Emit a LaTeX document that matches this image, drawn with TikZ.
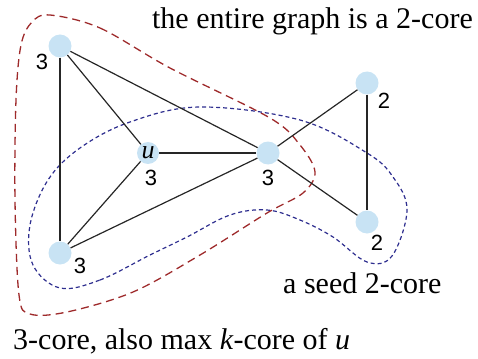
\documentclass[tikz,border=0pt]{standalone}
\usepackage{fontspec}
\setmainfont{Liberation Serif}
\newfontfamily\lblfont{Liberation Sans}
\definecolor{vtxfill}{HTML}{C8E3F4}
\definecolor{outerln}{HTML}{9E2A2B}
\definecolor{innerln}{HTML}{2E2E8F}
\begin{document}
\begin{tikzpicture}[
      x=1pt,y=-1pt,
      vtx/.style={circle,fill=vtxfill,minimum size=23pt,inner sep=0pt},
      deg/.style={font=\lblfont\fontsize{22}{22}\selectfont,inner sep=0pt},
      capt/.style={font=\fontsize{30}{30}\selectfont,inner sep=0pt},
      edge/.style={black!85,line width=1.2pt},
    ]
    \useasboundingbox (0,0) rectangle (478,358);
    % the two cores
    \draw[outerln,line width=1.3pt,dash pattern=on 8pt off 5pt]
      plot[smooth cycle,tension=0.55] coordinates {(50,15) (100,28) (170,68) (270,118) (300,145)
        (315,172) (303,193) (267,213) (200,255) (133,292) (67,312) (30,314) (19,295)
        (15,200) (16,100) (21,45) (32,22)};
    \draw[innerln,line width=1.2pt,dash pattern=on 4pt off 3pt]
      plot[smooth cycle,tension=0.6] coordinates {(60,288) (100,280) (150,255) (187,237) (230,215)
        (267,210) (300,220) (333,237) (367,262) (392,256) (407,210) (393,177) (367,153)
        (300,120) (200,107) (130,122) (80,148) (48,180) (30,225) (33,265)};
    % vertices
    \node[vtx] (a) at (60,46) {};
    \node[vtx,minimum size=22pt] (u) at (148,153) {\fontsize{26}{26}\selectfont\textit{u}};
    \node[vtx] (c) at (268,153) {};
    \node[vtx] (d) at (367,83) {};
    \node[vtx] (e) at (367,222) {};
    \node[vtx] (f) at (60,253) {};
    \foreach \s/\t in {a/f,a/u,a/c,u/c,u/f,f/c,c/d,c/e,d/e}
      \draw[edge] (\s) -- (\t);
    % core numbers
    \node[deg] (na) at (42,62) {3};
    \node[deg] (nu) at (151,178) {3};
    \node[deg] (nc) at (268,178) {3};
    \node[deg] (nd) at (384,101) {2};
    \node[deg] (ne) at (377,243) {2};
    \node[deg] (nf) at (80,266) {3};
    % captions
    \node[capt,anchor=base east] (whole) at (473,29) {the entire graph is a 2-core};
    \node[capt,anchor=base west] (seed) at (283,293) {a seed 2-core};
    \node[capt,anchor=base west] (maxk) at (13,349) {3-core, also max \textit{k}-core of \textit{u}};
  \end{tikzpicture}
\end{document}
